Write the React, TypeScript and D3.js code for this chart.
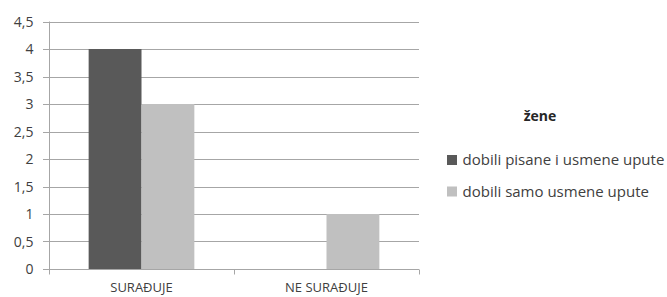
import { useRef, useEffect } from "react";
import * as d3 from "d3";

const categories = ["SURAĐUJE", "NE SURAĐUJE"];
const seriesNames = ["dobili pisane i usmene upute", "dobili samo usmene upute"];
const pisaneIUsmene = [4, 0];
const samoUsmene = [3, 1];
const yTicks = [0, 0.5, 1, 1.5, 2, 2.5, 3, 3.5, 4, 4.5];
const legendTitle = "žene";
const colors = ["#595959", "#c0c0c0"];

export default function App() {
  const svgRef = useRef<SVGSVGElement>(null);

  useEffect(() => {
    const svg = d3.select(svgRef.current);
    svg.selectAll("*").remove();

    const width = 667;
    const height = 297;
    const margin = { top: 21.5, right: 248, bottom: 28, left: 49 };
    const font = "'Open Sans', sans-serif";
    const textColor = "#404040";

    const x = d3
      .scaleBand()
      .domain(categories)
      .range([margin.left, width - margin.right]);

    const inner = d3
      .scaleBand()
      .domain(seriesNames)
      .range([0, x.bandwidth()])
      .paddingInner(0)
      .paddingOuter(0.75);

    const y = d3
      .scaleLinear()
      .domain([0, 4.5])
      .range([height - margin.bottom, margin.top]);

    // gridlines
    svg
      .append("g")
      .selectAll("line")
      .data(yTicks)
      .join("line")
      .attr("x1", margin.left - 6)
      .attr("x2", width - margin.right)
      .attr("y1", d => Math.round(y(d)) + 0.5)
      .attr("y2", d => Math.round(y(d)) + 0.5)
      .attr("stroke", "#a6a6a6")
      .attr("stroke-width", 1);

    // y tick labels
    svg
      .append("g")
      .selectAll("text")
      .data(yTicks)
      .join("text")
      .attr("x", margin.left - 15.5)
      .attr("y", d => y(d))
      .attr("dy", "0.36em")
      .attr("text-anchor", "end")
      .attr("fill", textColor)
      .style("font-family", font)
      .style("font-size", "14px")
      .text(d => String(d).replace(".", ","));

    // y axis line
    svg
      .append("line")
      .attr("x1", margin.left + 0.5)
      .attr("x2", margin.left + 0.5)
      .attr("y1", y(4.5))
      .attr("y2", y(0))
      .attr("stroke", "#a6a6a6");

    // bars
    const series = [pisaneIUsmene, samoUsmene];
    series.forEach((vals, si) => {
      svg
        .append("g")
        .selectAll("rect")
        .data(categories.map((c, i) => ({ c, v: vals[i] })))
        .join("rect")
        .attr("x", d => (x(d.c) as number) + (inner(seriesNames[si]) as number))
        .attr("width", inner.bandwidth())
        .attr("y", d => y(d.v))
        .attr("height", d => y(0) - y(d.v))
        .attr("fill", colors[si]);
    });

    // x axis baseline + ticks
    const base = Math.round(y(0)) + 0.5;
    svg
      .append("line")
      .attr("x1", margin.left)
      .attr("x2", width - margin.right)
      .attr("y1", base)
      .attr("y2", base)
      .attr("stroke", "#a6a6a6");
    const edges = [margin.left, ...categories.map(c => (x(c) as number) + x.bandwidth())];
    svg
      .append("g")
      .selectAll("line")
      .data(edges)
      .join("line")
      .attr("x1", d => Math.round(d) + 0.5)
      .attr("x2", d => Math.round(d) + 0.5)
      .attr("y1", base)
      .attr("y2", base + 5)
      .attr("stroke", "#a6a6a6");

    // category labels
    svg
      .append("g")
      .selectAll("text")
      .data(categories)
      .join("text")
      .attr("x", d => (x(d) as number) + x.bandwidth() / 2)
      .attr("y", 292)
      .attr("text-anchor", "middle")
      .attr("fill", textColor)
      .style("font-family", font)
      .style("font-size", "13px")
      .text(d => d);

    // legend
    svg
      .append("text")
      .attr("x", 540)
      .attr("y", 121)
      .attr("text-anchor", "middle")
      .attr("fill", "#262626")
      .attr("font-weight", "bold")
      .style("font-family", font)
      .style("font-size", "14px")
      .text(legendTitle);

    const legend = svg
      .append("g")
      .selectAll("g")
      .data(seriesNames)
      .join("g")
      .attr("transform", (_d, i) => `translate(447,${155 + i * 31.5})`);
    legend
      .append("rect")
      .attr("width", 10)
      .attr("height", 10)
      .attr("fill", (_d, i) => colors[i]);
    legend
      .append("text")
      .attr("x", 15.5)
      .attr("y", 10)
      .attr("fill", textColor)
      .style("font-family", font)
      .style("font-size", "15px")
      .text(d => d);
  }, []);

  return (
    <svg
      ref={svgRef}
      width={667}
      height={297}
      style={{ position: "absolute", left: 0, top: 0, background: "#fff" }}
    />
  );
}
